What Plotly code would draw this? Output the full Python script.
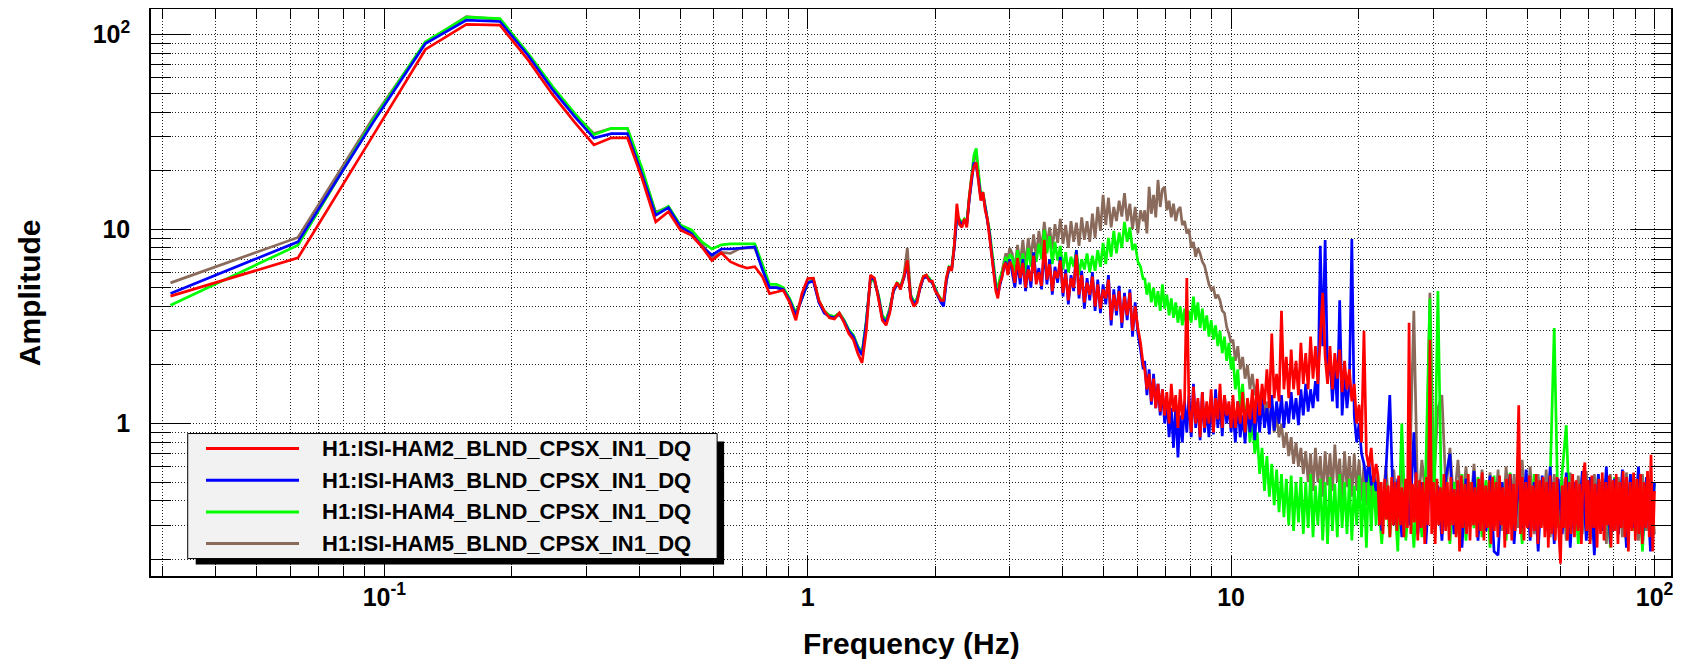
import numpy as np
import plotly.graph_objects as go

# ---------------- frequency axis ----------------
FREQ_BINS = [k / 32 for k in range(1, 97)]   # FFT bins 0.03125 ... 3.0 Hz (df = 1/32 Hz)
SPAN_A = (3.04, 6.2)
SPAN_B = (6.25, 10.0)
SPAN_C = (10.1, 22.0)
SPAN_D = (22.2, 100.0)

# ---------------- H1:ISI-HAM2 (red) ----------------
HAM2_LOW = [4.52, 7.11, 30, 84, 113, 112, 74, 49,
            35.5, 27.1, 29.5, 29.5, 18.2, 10.9, 12.3, 9.9,
            9.3, 8.1, 6.9, 7.55, 6.8, 6.5, 6.3, 6.4,
            5.7, 4.66, 4.75, 4.85, 4.2, 3.4, 4.66, 5.57,
            5.6, 4.3, 3.8, 3.5, 3.45, 3.7, 3.3, 2.9,
            2.7, 2.3, 2.05, 3.0, 5.8, 5.6, 4.4, 3.4,
            3.2, 3.7, 4.9, 5.3, 4.9, 5.7, 6.9, 4.4,
            4.0, 4.2, 5.1, 5.7, 5.8, 5.4, 5.4, 4.8,
            4.6, 4.3, 4.3, 5.6, 6.4, 6.1, 8.2, 13.5,
            10.6, 10.2, 11.3, 10.2, 14.5, 18.5, 21, 22,
            17.5, 14, 15.5, 12.5, 11.3, 9.2, 7.3, 5.8,
            4.8, 4.4, 5.3, 5.6, 6.5, 6.7, 5.8, 6.8]
HAM2_A = [6.4, 5.3, 7.1, 5.6, 6.7, 5.0, 6.2, 5.4, 7.3, 5.2,
          6.0, 5.1, 8.8, 5.5, 6.6, 4.8, 6.1, 5.6, 6.9, 4.7,
          5.9, 4.3, 5.6, 5.0, 7.4, 4.6, 5.8, 4.2, 5.3, 4.6,
          5.7, 4.0, 5.2, 3.9, 4.9, 4.4, 5.5, 3.4, 4.6, 3.8,
          4.8, 3.3, 4.5, 3.6, 4.7, 3.0, 4.0, 3.1, 2.6, 2.0]
HAM2_B = [1.9, 1.5, 1.8, 1.3, 1.7, 1.2, 1.6, 1.15, 1.5, 1.1,
          1.45, 1.0, 1.6, 1.15, 1.4, 0.95, 1.5, 1.05, 1.3, 5.6,
          1.2, 0.9, 1.55, 1.0, 1.35, 0.85, 1.45, 0.95, 1.3, 1.0,
          1.5, 0.9, 1.35, 1.05, 1.6, 0.95, 1.4, 1.1, 1.3, 0.95]
HAM2_C = [1.4, 0.95, 1.3, 1.0, 1.45, 0.9, 1.35, 1.05, 1.5, 1.0,
          1.7, 1.1, 1.6, 1.25, 1.9, 1.2, 2.9, 1.35, 1.8, 1.3,
          3.8, 1.5, 2.2, 1.35, 2.4, 1.5, 2.1, 1.4, 2.6, 1.6,
          2.3, 1.5, 2.8, 1.7, 2.5, 1.6, 3.0, 4.7, 2.2, 1.6,
          2.5, 1.5, 2.3, 1.7, 2.4, 1.45, 2.1, 1.5, 1.9, 1.3,
          1.6, 1.0, 1.25, 0.8, 3.0, 0.7, 0.6, 0.75, 0.5, 0.62]
HAM2_D = [0.55, 0.3, 0.5, 0.27, 0.52, 0.32, 0.48, 0.26, 0.53, 0.3,
          0.5, 0.28, 0.54, 0.3, 0.47, 0.26, 0.52, 0.29, 3.3, 0.27,
          0.49, 0.31, 0.56, 0.25, 0.51, 0.29, 0.5, 0.24, 0.53, 0.3,
          2.7, 0.27, 0.5, 0.24, 0.52, 0.3, 0.47, 0.27, 0.55, 0.28,
          0.5, 0.25, 0.53, 0.3, 0.46, 0.26, 0.51, 0.22, 0.54, 0.29,
          0.49, 0.27, 0.55, 0.25, 0.5, 0.3, 0.47, 0.26, 0.52, 0.28,
          0.56, 0.25, 0.48, 0.29, 0.51, 0.24, 0.53, 0.28, 0.5, 0.26,
          0.54, 0.3, 0.47, 0.23, 0.52, 0.27, 0.55, 0.25, 0.49, 0.28,
          0.5, 1.24, 0.27, 0.53, 0.25, 0.5, 0.29, 0.54, 0.26, 0.48,
          0.28, 0.55, 0.24, 0.51, 0.29, 0.53, 0.26, 0.5, 0.23, 0.54,
          0.27, 0.5, 0.25, 0.53, 0.28, 0.19, 0.48, 0.29, 0.53, 0.25,
          0.5, 0.27, 0.55, 0.26, 0.51, 0.28, 0.49, 0.24, 0.54, 0.63,
          0.28, 0.51, 0.24, 0.54, 0.29, 0.49, 0.23, 0.52, 0.27, 0.56,
          0.25, 0.5, 0.3, 0.54, 0.23, 0.51, 0.28, 0.55, 0.24, 0.5,
          0.29, 0.57, 0.26, 0.53, 0.22, 0.5, 0.28, 0.56, 0.25, 0.52,
          0.27, 0.55, 0.24, 0.5, 0.29, 0.57, 0.26, 0.69, 0.22, 0.45]

# ---------------- H1:ISI-HAM3 (blue) ----------------
HAM3_LOW = [4.67, 8.6, 35, 90, 119, 117, 78, 52,
            38, 29.4, 31, 31, 19, 11.8, 12.9, 10.3,
            9.5, 8.1, 7.35, 7.9, 7.9, 7.95, 8.0, 8.1,
            6.2, 5.0, 5.0, 4.9, 4.3, 3.6, 4.4, 5.3,
            5.4, 4.2, 3.7, 3.55, 3.5, 3.65, 3.35, 3.0,
            2.8, 2.45, 2.25, 3.3, 5.6, 5.5, 4.5, 3.5,
            3.3, 3.8, 4.8, 5.2, 5.0, 5.6, 6.6, 4.5,
            4.1, 4.3, 5.0, 5.6, 5.7, 5.5, 5.3, 4.9,
            4.5, 4.2, 4.0, 5.4, 6.3, 6.2, 8.0, 11.5,
            11.0, 10.5, 11.0, 10.6, 14, 18, 22, 21,
            18, 14.5, 15, 13, 11, 9.5, 7.5, 6.0,
            5.0, 4.6, 5.2, 5.7, 6.3, 6.8, 6.0, 7.0]
HAM3_A = [6.0, 5.0, 6.8, 5.2, 7.0, 4.8, 6.5, 5.0, 7.6, 5.5,
          6.3, 4.9, 8.0, 5.2, 7.0, 4.6, 6.4, 5.3, 7.2, 4.5,
          6.2, 4.1, 5.8, 4.8, 7.8, 4.4, 6.1, 3.9, 5.6, 4.3,
          6.0, 3.8, 5.5, 3.7, 5.2, 4.1, 5.8, 3.2, 4.9, 3.6,
          5.1, 3.1, 4.7, 3.4, 4.9, 2.8, 4.2, 2.9, 2.4, 1.9]
HAM3_B = [2.1, 1.4, 1.9, 1.25, 1.8, 1.2, 1.6, 1.1, 1.5, 1.0,
          1.3, 0.85, 1.2, 0.75, 1.25, 0.67, 1.1, 0.8, 1.3, 0.9,
          1.4, 0.85, 1.6, 0.95, 1.3, 0.82, 1.45, 0.9, 1.2, 0.85,
          1.35, 0.88, 1.5, 0.95, 1.3, 0.86, 1.4, 1.0, 1.25, 0.9]
HAM3_C = [1.2, 0.8, 1.3, 0.85, 1.1, 0.79, 1.25, 0.9, 1.2, 0.82,
          1.3, 0.9, 1.35, 0.95, 1.2, 0.88, 1.4, 0.92, 1.3, 1.0,
          1.4, 0.95, 1.3, 1.0, 1.45, 1.05, 1.35, 0.98, 1.5, 1.1,
          1.6, 1.15, 1.5, 1.2, 1.65, 1.3, 8.2, 2.5, 8.8, 1.7,
          2.2, 1.3, 2.0, 1.2, 4.3, 1.1, 1.8, 1.2, 1.6, 8.9,
          1.1, 0.8, 1.0, 0.7, 0.62, 0.5, 0.65, 0.48, 0.55, 0.45]
HAM3_D = [0.5, 0.28, 0.55, 1.4, 0.3, 0.52, 0.26, 0.5, 0.3, 0.9,
          0.27, 0.5, 0.24, 0.55, 0.3, 0.48, 0.25, 0.53, 0.7, 0.27,
          0.5, 0.23, 0.52, 0.3, 0.57, 0.25, 0.49, 0.28, 0.54, 0.22,
          0.21, 0.5, 0.27, 0.55, 0.24, 0.51, 0.29, 0.58, 0.25, 0.5,
          0.22, 0.54, 0.28, 0.6, 0.24, 0.52, 0.27, 0.56, 0.23, 0.5,
          0.29, 0.57, 0.25, 0.53, 0.21, 0.55, 0.28, 0.6, 0.24, 0.52,
          0.27, 0.58, 0.23, 0.55, 0.29, 0.6, 0.25, 0.53, 0.22, 0.5]

# ---------------- H1:ISI-HAM4 (green) ----------------
HAM4_LOW = [4.06, 8.27, 36, 92, 123, 121, 80, 54,
            39.5, 30.6, 33, 33, 20.5, 12.0, 13.1, 10.5,
            9.9, 8.6, 7.9, 8.3, 8.4, 8.4, 8.4, 8.4,
            6.6, 5.2, 5.2, 5.0, 4.4, 3.7, 4.4, 5.3,
            5.5, 4.3, 3.8, 3.6, 3.55, 3.7, 3.4, 3.05,
            2.85, 2.5, 2.3, 3.4, 5.5, 5.4, 4.6, 3.6,
            3.4, 3.9, 4.8, 5.3, 5.1, 5.7, 6.8, 4.6,
            4.2, 4.4, 5.1, 5.7, 5.8, 5.6, 5.3, 5.0,
            4.6, 4.4, 4.2, 5.5, 6.4, 6.3, 8.3, 11.8,
            11.2, 10.8, 11.3, 10.9, 14.5, 19, 24, 26,
            20, 15, 15.5, 13.5, 11.3, 9.8, 7.8, 6.3,
            5.3, 4.9, 5.6, 6.0, 6.6, 7.2, 6.5, 7.4]
HAM4_A = [7.2, 6.0, 7.8, 6.3, 7.5, 5.9, 8.0, 6.4, 7.6, 6.8,
          8.4, 7.0, 9.9, 7.5, 9.2, 6.6, 8.6, 6.9, 8.2, 6.2,
          7.6, 6.0, 7.2, 6.4, 7.8, 5.8, 7.0, 6.2, 7.5, 6.0,
          7.3, 6.1, 7.8, 6.4, 8.5, 6.6, 9.0, 7.2, 9.8, 7.5,
          9.6, 8.0, 10.9, 8.6, 10.2, 7.8, 8.4, 6.8, 6.4, 5.5]
HAM4_B = [5.6, 4.6, 5.3, 4.2, 5.0, 4.0, 4.8, 3.8, 5.2, 3.9,
          4.6, 3.6, 4.4, 3.5, 4.2, 3.3, 4.0, 3.2, 3.9, 3.1,
          3.8, 3.3, 4.5, 3.4, 4.2, 3.1, 3.9, 3.0, 3.6, 2.8,
          3.4, 2.7, 3.2, 2.5, 3.0, 2.3, 2.8, 2.1, 2.6, 1.9]
HAM4_C = [2.2, 1.5, 1.9, 1.2, 1.6, 1.0, 1.3, 0.8, 1.05, 0.7,
          0.9, 0.55, 0.75, 0.45, 0.68, 0.42, 0.62, 0.38, 0.58, 0.35,
          0.55, 0.33, 0.52, 0.3, 0.54, 0.28, 0.5, 0.31, 0.53, 0.27,
          0.5, 0.29, 0.55, 0.26, 0.48, 0.3, 0.52, 0.25, 0.5, 0.24,
          0.53, 0.28, 0.49, 0.26, 0.55, 0.29, 0.5, 0.27, 0.52, 0.25,
          0.48, 0.3, 0.54, 0.26, 0.5, 0.23, 0.55, 0.28, 0.52, 0.3]
HAM4_D = [0.45, 0.24, 0.5, 0.26, 0.47, 0.22, 1.0, 0.25, 0.48, 0.23,
          0.5, 0.26, 0.6, 4.4, 0.3, 4.8, 0.28, 0.52, 0.24, 0.5,
          0.27, 0.55, 0.25, 0.5, 0.29, 0.53, 0.26, 0.51, 0.23, 0.54,
          0.28, 0.5, 0.25, 0.56, 0.27, 0.52, 0.24, 0.5, 0.29, 0.55,
          0.26, 0.5, 0.28, 0.53, 3.1, 0.3, 0.56, 0.98, 0.27, 0.5,
          0.24, 0.54, 0.28, 0.51, 0.25, 0.55, 0.3, 0.5, 0.23, 0.53,
          0.27, 0.55, 0.24, 0.5, 0.28, 0.54, 0.22, 0.52, 0.26, 0.5]

# ---------------- H1:ISI-HAM5 (brown) ----------------
HAM5_LOW = [5.29, 9.06, 37, 91, 124, 120, 79, 53,
            39, 31, 33, 33, 20, 12.2, 13, 10.4,
            9.8, 8.4, 7.1, 7.6, 7.5, 7.9, 8.0, 8.0,
            6.3, 5.0, 5.0, 4.9, 4.3, 3.7, 4.4, 5.3,
            5.5, 4.2, 3.75, 3.6, 3.55, 3.7, 3.4, 3.0,
            2.85, 2.5, 2.3, 3.3, 5.5, 5.4, 4.5, 3.5,
            3.4, 3.9, 4.8, 5.2, 5.0, 5.8, 8.0, 4.6,
            4.2, 4.4, 5.0, 5.6, 5.7, 5.5, 5.3, 4.9,
            4.5, 4.3, 4.2, 5.4, 6.3, 6.2, 8.1, 11.6,
            11.0, 10.6, 11.1, 10.7, 14.2, 18.5, 23, 24,
            19, 14.8, 15.2, 13.2, 11.1, 9.6, 7.6, 6.1,
            5.1, 4.7, 5.4, 5.9, 6.8, 7.5, 7.0, 8.0]
HAM5_A = [7.5, 6.2, 8.3, 6.6, 8.8, 6.4, 9.0, 7.0, 9.4, 7.2,
          9.8, 7.8, 10.9, 8.2, 10.2, 7.9, 10.6, 8.5, 11.3, 8.4,
          10.5, 8.0, 11.0, 8.6, 10.8, 8.2, 11.5, 8.8, 11.0, 8.6,
          12.0, 9.0, 13.0, 9.8, 15.0, 10.5, 14.5, 10.2, 13.0, 11.0,
          14.0, 11.6, 15.3, 11.0, 13.5, 10.0, 13.0, 9.5, 12.5, 11.0]
HAM5_B = [12.5, 9.5, 16.5, 12.0, 15.0, 11.5, 17.9, 13.0, 16.0, 16.5,
          12.5, 14.0, 11.5, 13.5, 11.0, 12.5, 13.0, 10.5, 11.0, 9.5,
          10.0, 8.0, 8.6, 7.2, 8.0, 7.5, 6.8, 6.5, 5.7, 5.2,
          4.9, 5.0, 4.4, 4.6, 4.3, 3.8, 3.7, 3.14, 2.9, 2.6]
HAM5_C = [2.7, 2.1, 2.5, 1.9, 2.2, 1.7, 2.0, 1.5, 1.8, 1.4,
          1.6, 1.2, 1.45, 1.1, 1.3, 1.0, 1.2, 0.9, 1.1, 0.85,
          1.0, 0.75, 0.9, 0.68, 0.85, 0.62, 0.8, 0.6, 0.75, 0.55,
          0.72, 0.5, 0.7, 0.45, 0.75, 0.5, 0.68, 0.42, 0.72, 0.48,
          0.7, 0.45, 0.78, 0.5, 0.66, 0.4, 0.72, 0.47, 0.68, 0.42,
          0.7, 0.45, 0.65, 0.4, 0.62, 0.38, 0.6, 0.36, 0.58, 0.35]
HAM5_D = [0.55, 0.32, 0.6, 0.35, 0.58, 0.3, 0.62, 0.34, 0.6, 3.8,
          0.35, 0.65, 0.4, 4.7, 0.5, 1.2, 1.4, 0.45, 0.75, 0.38,
          0.65, 0.35, 0.6, 0.33, 0.62, 0.3, 0.58, 0.32, 0.56, 0.3,
          0.58, 0.28, 0.6, 0.31, 0.55, 0.29, 0.65, 0.3, 0.6, 0.27,
          0.55, 0.3, 0.58, 0.26, 0.55, 0.29, 0.52, 0.25, 0.56, 0.28,
          0.54, 0.27, 0.57, 0.25, 0.55, 0.3, 0.52, 0.24, 0.55, 0.28,
          0.53, 0.26, 0.56, 0.29, 0.52, 0.25, 0.55, 0.28, 0.5, 0.27]

CHANNELS = ["H1:ISI-HAM2_BLND_CPSX_IN1_DQ", "H1:ISI-HAM3_BLND_CPSX_IN1_DQ",
            "H1:ISI-HAM4_BLND_CPSX_IN1_DQ", "H1:ISI-HAM5_BLND_CPSX_IN1_DQ"]
COLORS = ["#ff0000", "#0000ff", "#00ff00", "#8a6a5a"]


def build(low, seg_a, seg_b, seg_c, seg_d):
    f = list(FREQ_BINS)
    a = list(low)
    for span, vals in zip((SPAN_A, SPAN_B, SPAN_C, SPAN_D), (seg_a, seg_b, seg_c, seg_d)):
        f += list(np.geomspace(span[0], span[1], len(vals)))
        a += list(vals)
    return f, a


series = [
    build(HAM2_LOW, HAM2_A, HAM2_B, HAM2_C, HAM2_D),
    build(HAM3_LOW, HAM3_A, HAM3_B, HAM3_C, HAM3_D),
    build(HAM4_LOW, HAM4_A, HAM4_B, HAM4_C, HAM4_D),
    build(HAM5_LOW, HAM5_A, HAM5_B, HAM5_C, HAM5_D),
]

fig = go.Figure()
# draw brown first, red last (red on top)
for i in [3, 2, 1, 0]:
    f, a = series[i]
    fig.add_trace(go.Scatter(x=f, y=a, mode="lines", name=CHANNELS[i],
                             line=dict(color=COLORS[i], width=2.7), showlegend=False))

# ---------------- layout ----------------
# The page body has an 8 px margin, so the figure is drawn 8 px smaller and
# every page position below is expressed relative to the plot area.
OFF = 8
W, H = 1683 - OFF, 667 - 2 * OFF
PL, PR, PT, PB = 151, 1670.7, 9, 575.7      # plot frame in page pixels


def px(x):
    return (x - PL) / (PR - PL)


def py(y):
    return (PB - y) / (PB - PT)


FONT = "Liberation Sans, Arial, Helvetica, sans-serif"
GRID = dict(showgrid=True, gridcolor="#222", griddash="1px,2px", gridwidth=1)

x_minor = [m * d for d in (0.01, 0.1, 1, 10) for m in range(2, 10) if 0.028 < m * d < 109]
y_minor = [m * d for d in (0.1, 1, 10) for m in range(2, 10)]

fig.update_layout(
    width=W, height=H,
    paper_bgcolor="white", plot_bgcolor="white",
    margin=dict(l=PL - OFF, r=W - (PR - OFF), t=PT - OFF, b=H - (PB - OFF),
                pad=0, autoexpand=False),
    font=dict(family=FONT, color="black"),
    xaxis=dict(type="log", range=[-1.5512, 2.039],
               tickvals=[0.1, 1, 10, 100],
               ticktext=["10<sup>-1</sup>", "1", "10", "10<sup>2</sup>"],
               ticks="inside", ticklen=20, tickwidth=1.2, tickcolor="black",
               tickfont=dict(size=25, family=FONT, weight="bold"),
               ticklabelstandoff=-2,
               showline=True, linecolor="black", linewidth=1.5, mirror="allticks",
               zeroline=False, **GRID,
               minor=dict(tickvals=x_minor, ticks="inside", ticklen=10, tickwidth=1.2,
                          tickcolor="black", **GRID)),
    yaxis=dict(type="log", range=[-0.7844, 2.1323],
               tickvals=[1, 10, 100],
               ticktext=["1", "10", "10<sup>2</sup>"],
               ticks="inside", ticklen=40, tickwidth=1.2, tickcolor="black",
               tickfont=dict(size=25, family=FONT, weight="bold"),
               ticklabelstandoff=14,
               showline=True, linecolor="black", linewidth=1.5, mirror="allticks",
               zeroline=False, **GRID,
               minor=dict(tickvals=y_minor, ticks="inside", ticklen=20, tickwidth=1.2,
                          tickcolor="black", **GRID)),
)

annotations = [
    dict(text="<b>Frequency (Hz)</b>", xref="paper", yref="paper",
         x=px(911), y=py(643), xanchor="center", yanchor="middle",
         showarrow=False, font=dict(size=30, family=FONT, color="black")),
    dict(text="<b>Amplitude</b>", xref="paper", yref="paper",
         x=px(29), y=py(292), xanchor="center", yanchor="middle", textangle=-90,
         showarrow=False, font=dict(size=30, family=FONT, color="black")),
]

# ---------------- legend (ROOT style box with shadow) ----------------
BOX_X0, BOX_X1, BOX_Y0, BOX_Y1 = 187.7, 717, 433.3, 558.3
shapes = [
    dict(type="rect", xref="paper", yref="paper", layer="above",
         x0=px(BOX_X0 + 8), x1=px(BOX_X1 + 7), y0=py(BOX_Y1 + 6), y1=py(BOX_Y0 + 8),
         fillcolor="black", line=dict(width=0)),
    dict(type="rect", xref="paper", yref="paper", layer="above",
         x0=px(BOX_X0), x1=px(BOX_X1), y0=py(BOX_Y1), y1=py(BOX_Y0),
         fillcolor="#f2f2f2", line=dict(color="black", width=1)),
]
ROWS = [448.3, 480.0, 511.7, 543.3]
for i, yrow in enumerate(ROWS):
    shapes.append(dict(type="line", xref="paper", yref="paper", layer="above",
                       x0=px(206), x1=px(299), y0=py(yrow), y1=py(yrow),
                       line=dict(color=COLORS[i], width=3)))
    annotations.append(dict(text="<b>" + CHANNELS[i] + "</b>", xref="paper", yref="paper",
                            x=px(320), y=py(yrow), xanchor="left", yanchor="middle",
                            showarrow=False, font=dict(size=22, family=FONT, color="black")))

fig.update_layout(shapes=shapes, annotations=annotations)
fig.write_html("out.html")
